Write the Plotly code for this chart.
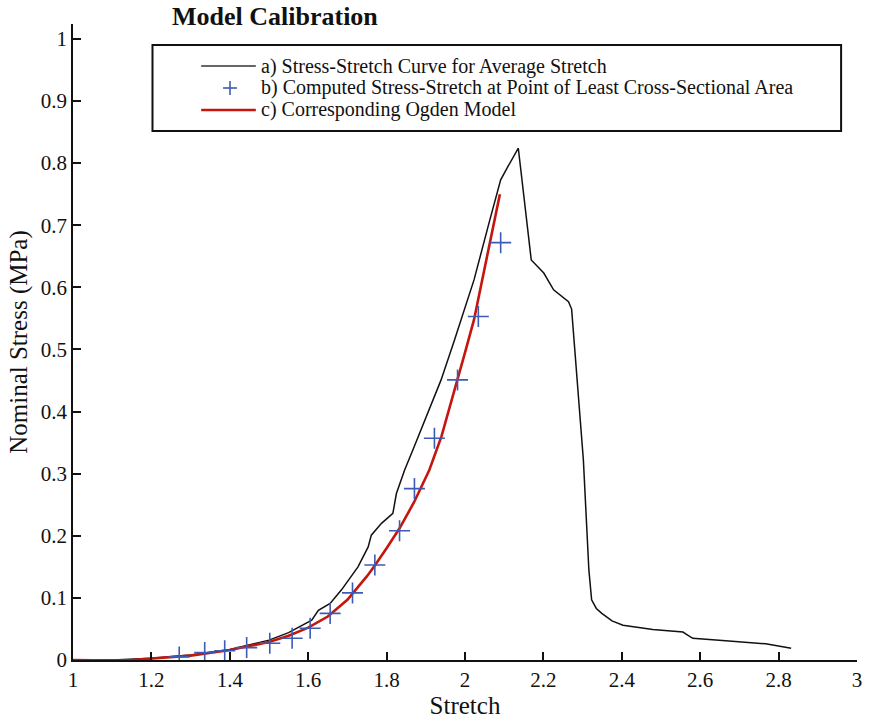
import plotly.graph_objects as go

# Stress-stretch curve for the average stretch (black)
avg_stretch = [1.0, 1.1, 1.2, 1.3, 1.4, 1.5, 1.55, 1.575, 1.6, 1.609, 1.626, 1.656, 1.685,
               1.727, 1.753, 1.761, 1.787, 1.816, 1.825, 1.846, 1.867, 1.9, 1.939, 1.973,
               1.99, 2.023, 2.061, 2.091, 2.11, 2.136, 2.169, 2.201, 2.226, 2.25, 2.264,
               2.272, 2.285, 2.302, 2.316, 2.323, 2.335, 2.349, 2.375, 2.403, 2.479,
               2.556, 2.566, 2.581, 2.665, 2.767, 2.832]
avg_stress = [0.0, 0.0, 0.003, 0.008, 0.017, 0.032, 0.044, 0.052, 0.061, 0.064, 0.080, 0.091,
              0.113, 0.150, 0.182, 0.201, 0.220, 0.236, 0.268, 0.306, 0.338, 0.39, 0.451,
              0.515, 0.548, 0.612, 0.703, 0.773, 0.795, 0.824, 0.644, 0.623, 0.596, 0.583,
              0.577, 0.565, 0.456, 0.322, 0.145, 0.097, 0.083, 0.075, 0.063, 0.056, 0.049,
              0.045, 0.041, 0.035, 0.031, 0.026, 0.019]

# Computed stress-stretch at the point of least cross-sectional area (blue crosses)
least_stretch = [1.271, 1.336, 1.387, 1.443, 1.502, 1.559, 1.605, 1.656, 1.713, 1.770,
                 1.833, 1.871, 1.922, 1.981, 2.034, 2.091]
least_stress = [0.005, 0.012, 0.015, 0.020, 0.027, 0.035, 0.051, 0.075, 0.108, 0.153,
                0.208, 0.276, 0.357, 0.451, 0.553, 0.672]

# Corresponding Ogden model (red)
ogden_stretch = [1.0, 1.05, 1.1, 1.15, 1.2, 1.3, 1.4, 1.5, 1.55, 1.6, 1.65, 1.7, 1.75, 1.77,
                 1.8, 1.833, 1.87, 1.909, 1.94, 1.977, 2.0, 2.023, 2.05, 2.089]
ogden_stress = [0.0, -0.001, -0.001, 0.0, 0.002, 0.007, 0.016, 0.029, 0.039, 0.052, 0.07,
                0.097, 0.135, 0.152, 0.18, 0.212, 0.254, 0.306, 0.36, 0.446, 0.495, 0.548,
                0.63, 0.75]

x_ticks = [1, 1.2, 1.4, 1.6, 1.8, 2, 2.2, 2.4, 2.6, 2.8, 3]
x_tick_text = ["1", "1.2", "1.4", "1.6", "1.8", "2", "2.2", "2.4", "2.6", "2.8", "3"]
y_ticks = [0, 0.1, 0.2, 0.3, 0.4, 0.5, 0.6, 0.7, 0.8, 0.9, 1]
y_tick_text = ["0", "0.1", "0.2", "0.3", "0.4", "0.5", "0.6", "0.7", "0.8", "0.9", "1"]

legend_labels = [
    "a) Stress-Stretch Curve for Average Stretch",
    "b) Computed Stress-Stretch at Point of Least Cross-Sectional Area",
    "c) Corresponding Ogden Model",
]

BLACK = "#111111"
RED = "#c4160f"
BLUE = "#3c5bb5"
SERIF = "Liberation Serif"

W, H = 871, 726
ML, MR, MT, MB = 73, 9, 24, 66
PW, PH = W - ML - MR, H - MT - MB

# legend row centres (pixels from the top)
ROW_A, ROW_B, ROW_C = 66, 88, 110


def px(x):
    return (x - ML) / PW


def py(y):
    return (H - MB - y) / PH


fig = go.Figure()
fig.add_trace(go.Scatter(x=avg_stretch, y=avg_stress, mode="lines",
                         line=dict(color=BLACK, width=1.5), name=legend_labels[0],
                         showlegend=False))
fig.add_trace(go.Scatter(x=ogden_stretch, y=ogden_stress, mode="lines",
                         line=dict(color=RED, width=2.6), name=legend_labels[2],
                         showlegend=False))
fig.add_trace(go.Scatter(x=least_stretch, y=least_stress, mode="markers",
                         marker=dict(symbol="cross-thin", size=15,
                                     line=dict(color=BLUE, width=1.6)),
                         name=legend_labels[1], showlegend=False))

# Legend box with line/marker samples
shapes = [
    dict(type="rect", xref="paper", yref="paper", x0=px(153), x1=px(846),
         y0=py(131), y1=py(45), line=dict(color=BLACK, width=2)),
    dict(type="line", xref="paper", yref="paper", x0=px(202), x1=px(257),
         y0=py(ROW_A), y1=py(ROW_A), line=dict(color="#333333", width=1.5)),
    dict(type="line", xref="paper", yref="paper", x0=px(202), x1=px(257),
         y0=py(ROW_C), y1=py(ROW_C), line=dict(color=RED, width=2.6)),
    dict(type="line", xref="paper", yref="paper", x0=px(224), x1=px(238),
         y0=py(ROW_B), y1=py(ROW_B), line=dict(color=BLUE, width=1.6)),
    dict(type="line", xref="paper", yref="paper", x0=px(231), x1=px(231),
         y0=py(ROW_B - 7), y1=py(ROW_B + 7), line=dict(color=BLUE, width=1.6)),
]

annotations = [
    dict(text="<b>Model Calibration</b>", xref="paper", yref="paper",
         x=px(171), y=py(16), xanchor="left", yanchor="middle", showarrow=False,
         font=dict(family=SERIF, size=26, color=BLACK)),
]
for label, ypix in zip(legend_labels, [ROW_A, ROW_B, ROW_C]):
    annotations.append(dict(text=label, xref="paper", yref="paper", x=px(260),
                            y=py(ypix), xanchor="left", yanchor="middle",
                            showarrow=False,
                            font=dict(family=SERIF, size=20, color=BLACK)))

fig.update_layout(
    width=W, height=H,
    margin=dict(l=ML, r=MR, t=MT, b=MB, pad=0),
    paper_bgcolor="white", plot_bgcolor="white",
    font=dict(family=SERIF, size=21, color=BLACK),
    shapes=shapes, annotations=annotations,
    xaxis=dict(range=[1, 3], tickvals=x_ticks, ticktext=x_tick_text,
               showgrid=False, zeroline=False, showline=True, linecolor=BLACK,
               linewidth=1.5, ticks="inside", ticklen=8, tickwidth=1.5,
               tickcolor=BLACK, tickfont=dict(family=SERIF, size=21),
               title=dict(text="Stretch", font=dict(family=SERIF, size=25),
                          standoff=5)),
    yaxis=dict(range=[0, 1.024], tickvals=y_ticks, ticktext=y_tick_text,
               showgrid=False, zeroline=False, showline=True, linecolor=BLACK,
               linewidth=1.5, ticks="inside", ticklen=8, tickwidth=1.5,
               tickcolor=BLACK, tickfont=dict(family=SERIF, size=21),
               title=dict(text="Nominal Stress (MPa)",
                          font=dict(family=SERIF, size=25), standoff=6)),
)

fig.write_html("out.html")
